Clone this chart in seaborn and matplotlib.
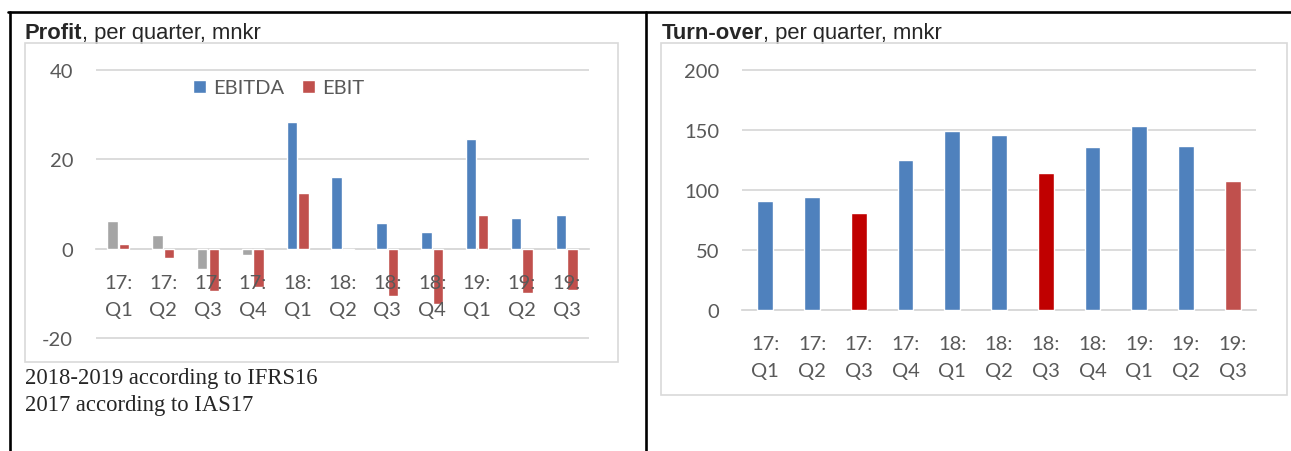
import numpy as np
import pandas as pd
import matplotlib
matplotlib.use('Agg')
import matplotlib.pyplot as plt
import seaborn as sns
from matplotlib.patches import Rectangle
from matplotlib.lines import Line2D

# data, mnkr
quarters = ['17:\nQ1', '17:\nQ2', '17:\nQ3', '17:\nQ4', '18:\nQ1', '18:\nQ2',
            '18:\nQ3', '18:\nQ4', '19:\nQ1', '19:\nQ2', '19:\nQ3']
ebitda = [6.2, 3.0, -4.6, -1.5, 28.3, 16.0, 5.7, 3.7, 24.5, 6.8, 7.5]
ebit = [1.1, -2.1, -9.5, -8.5, 12.4, -0.2, -10.6, -12.3, 7.6, -9.9, -9.3]
turnover = [90.6, 93.9, 80.6, 124.7, 148.9, 145.8, 113.9, 136.1, 153.6, 136.4, 107.2]
n_ias17 = 4  # 2017 EBITDA under IAS17 -> grey bars

BLUE, RED, GREY = '#4F81BD', '#C0504D', '#A5A5A5'
DARKRED = '#C00000'
turnover_palette = [BLUE, BLUE, DARKRED, BLUE, BLUE, BLUE, DARKRED, BLUE, BLUE, BLUE, RED]
TXT = '#595959'
GRID = '#D9D9D9'

sns.set_style('white')
plt.rcParams['font.family'] = ['Lato', 'DejaVu Sans']
plt.rcParams['axes.unicode_minus'] = False

W, H = 1291, 452
fig = plt.figure(figsize=(W / 100, H / 100), dpi=100)


def px_rect(x0, y0, x1, y1):
    return [x0 / W, 1 - y1 / H, (x1 - x0) / W, (y1 - y0) / H]


ax1 = fig.add_axes(px_rect(96, 66.5, 589, 343.5))
ax2 = fig.add_axes(px_rect(742, 67.4, 1256, 314.6))

profit = pd.DataFrame({'quarter': quarters * 2,
                       'measure': ['EBITDA'] * len(quarters) + ['EBIT'] * len(quarters),
                       'value': ebitda + ebit})
sns.barplot(data=profit, x='quarter', y='value', hue='measure', palette=[BLUE, RED],
            width=0.52, gap=0.1, saturation=1, ax=ax1)
for bar in ax1.containers[0][:n_ias17]:
    bar.set_facecolor(GREY)

turn = pd.DataFrame({'quarter': quarters, 'value': turnover})
sns.barplot(data=turn, x='quarter', y='value', hue='quarter', palette=turnover_palette,
            width=0.34, saturation=1, legend=False, ax=ax2)

ax1.set_ylim(-21, 41)
ax1.set_yticks([-20, 0, 20, 40])
ax2.set_ylim(-3, 203)
ax2.set_yticks([0, 50, 100, 150, 200])

for ax, xpad in ((ax1, 18), (ax2, 18)):
    ax.set_xlim(-0.5, len(quarters) - 0.5)
    ax.set_axisbelow(True)
    ax.xaxis.set_zorder(3)  # category labels sit on top of the bars
    ax.grid(axis='y', color=GRID, lw=1.3)
    for s in ['top', 'right', 'left']:
        ax.spines[s].set_visible(False)
    ax.spines['bottom'].set_position(('data', 0))
    ax.spines['bottom'].set_color(GRID)
    ax.spines['bottom'].set_linewidth(1.3)
    ax.spines['bottom'].set_zorder(0.5)
    ax.tick_params(length=0, labelcolor=TXT, labelsize=14.5)
    ax.tick_params(axis='x', pad=xpad)
    ax.tick_params(axis='y', pad=16.5)
    ax.set_xlabel('')
    ax.set_ylabel('')
    for lab in ax.get_xticklabels():
        lab.set_linespacing(1.75)

sns.move_legend(ax1, loc='center left', bbox_to_anchor=(193 / W, 1 - 89 / H),
                bbox_transform=fig.transFigure, ncol=2, frameon=False, title=None,
                fontsize=14.5, handlelength=0.67, handleheight=0.67, handletextpad=0.35,
                columnspacing=0.85, borderpad=0, borderaxespad=0, labelcolor=TXT)

# outer frame and chart boxes
for xs, ys in (([8, W], [13, 13]), ([10, 10], [13, H]), ([646, 646], [13, H])):
    fig.add_artist(Line2D([x / W for x in xs], [1 - y / H for y in ys],
                          color='black', lw=1.9, transform=fig.transFigure))
for x0, y0, x1, y1 in ((25, 44, 618, 363), (661, 44, 1287, 396)):
    r = px_rect(x0, y0, x1, y1)
    fig.add_artist(Rectangle((r[0], r[1]), r[2], r[3], fill=False, ec=GRID, lw=1.2,
                             transform=fig.transFigure))

# titles: bold name + regular rest
for x, name in ((25, 'Profit'), (662, 'Turn-over')):
    t1 = fig.text(x / W, 1 - 39 / H, name, weight='bold', family='Liberation Sans',
                  size=15.8, va='baseline')
    ax1.annotate(', per quarter, mnkr', xy=(1, 0), xycoords=t1, va='bottom', ha='left',
                 family='Liberation Sans', size=15.8, annotation_clip=False)

fig.text(25 / W, 1 - 384 / H, '2018-2019 according to IFRS16', family='Liberation Serif',
         size=16.3, va='baseline')
fig.text(25 / W, 1 - 411 / H, '2017 according to IAS17', family='Liberation Serif',
         size=16.3, va='baseline')

fig.savefig('out.png', dpi=100)
